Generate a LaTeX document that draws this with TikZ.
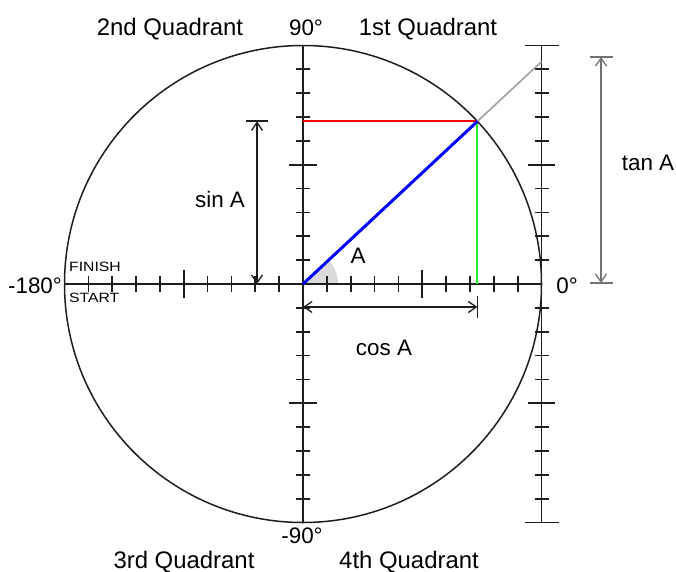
\documentclass[tikz,border=0pt]{standalone}
\usepackage{fontspec}
\setmainfont{Liberation Sans}
\usepackage{graphicx}
\usetikzlibrary{arrows.meta,calc}
\definecolor{axisgray}{RGB}{30,30,30}
\definecolor{sinered}{RGB}{255,0,0}
\definecolor{cosgreen}{RGB}{40,235,40}
\definecolor{radblue}{RGB}{0,0,255}
\definecolor{extgray}{RGB}{160,160,160}
\definecolor{tangray}{RGB}{115,115,115}
\definecolor{sectorgray}{RGB}{218,218,218}
\begin{document}
\begin{tikzpicture}[x=1bp,y=-1bp,
  lbl/.style={font=\fontsize{22.5}{26}\selectfont, inner sep=0, anchor=base},
  quadlbl/.style={font=\fontsize{24}{28}\selectfont, inner sep=0, anchor=base},
  smalllbl/.style={font=\fontsize{13.5}{15}\selectfont, inner sep=0, anchor=base west},
  axisline/.style={line width=1.7bp, draw=axisgray},
  tickline/.style={line width=1.7bp, draw=axisgray},
  barb/.tip={Straight Barb[length=8bp,width=11bp,line width=1.3bp]},
  dimline/.style={line width=1.5bp, draw=axisgray, barb-barb},
  tandim/.style={line width=2.2bp, draw=tangray, barb-barb},
  capline/.style={line width=1.7bp, draw=axisgray},
  tancap/.style={line width=2.2bp, draw=tangray}]
\useasboundingbox (0,0) rectangle (676,572);
\def\R{238.5}
\def\u{23.85}
\coordinate (O) at (303,284);
\coordinate (E) at (541.5,284);
\coordinate (W) at (64.5,284);
\coordinate (N) at (303,45.5);
\coordinate (S) at (303,522.5);
\coordinate (P) at ($(O)+({\R*cos(43)},{-\R*sin(43)})$);
\coordinate (Px) at (P |- O);
\coordinate (Py) at (P -| O);
\coordinate (T) at ($(E)+(0,{-\R*tan(43)})$);
\coordinate (TT) at (541.5,45.5);
\coordinate (TB) at (541.5,522.5);
% angle sector
\fill[sectorgray] (O) -- ++(35,0) arc[start angle=0, end angle=-43, radius=35] -- cycle;
% axes
\draw[axisline] (W) -- (E);
\draw[axisline] (N) -- (S);
\draw[axisline] (TT) -- (TB);
% ticks
\foreach \k in {1,...,9} {
  \pgfmathsetmacro\L{\k==5 ? 14 : 8}
  \draw[tickline] ({303+\k*\u},{284-\L}) -- ({303+\k*\u},{284+\L});
  \draw[tickline] ({303-\k*\u},{284-\L}) -- ({303-\k*\u},{284+\L});
  \pgfmathsetmacro\M{\k==5 ? 14 : 7}
  \draw[tickline] ({303-\M},{284-\k*\u}) -- ({303+\M},{284-\k*\u});
  \draw[tickline] ({303-\M},{284+\k*\u}) -- ({303+\M},{284+\k*\u});
  \pgfmathsetmacro\Q{\k==5 ? 13.5 : 7}
  \draw[tickline] ({541.5-\Q},{284-\k*\u}) -- ({541.5+\Q},{284-\k*\u});
  \draw[tickline] ({541.5-\Q},{284+\k*\u}) -- ({541.5+\Q},{284+\k*\u});
}
\draw[capline] ($(TT)+(-17,0)$) -- ($(TT)+(17,0)$);
\draw[capline] ($(TB)+(-17,0)$) -- ($(TB)+(17,0)$);
% circle
\draw[line width=1.5bp, draw=axisgray] (O) circle[radius=\R];
% trig lines
\draw[line width=1.6bp, draw=extgray] (P) -- (T);
\draw[line width=2bp, draw=sinered] (Py) -- (P);
\draw[line width=2bp, draw=cosgreen] (P) -- (Px);
\draw[line width=3bp, draw=radblue] (O) -- (P);
% sin dimension
\coordinate (S0) at (257,284);
\coordinate (S1) at (S0 |- P);
\draw[dimline] (S0) -- (S1);
\draw[capline] ($(S1)+(-11,0)$) -- ($(S1)+(11,0)$);
% cos dimension
\coordinate (C0) at (303,307);
\coordinate (C1) at (P |- C0);
\draw[dimline] (C0) -- (C1);
\draw[capline] ($(C1)+(0,-11)$) -- ($(C1)+(0,11)$);
% tan dimension
\coordinate (D0) at (601,283);
\coordinate (D1) at (601,57);
\draw[tandim] (D0) -- (D1);
\draw[tancap] ($(D0)+(-11.5,0)$) -- ($(D0)+(11.5,0)$);
\draw[tancap] ($(D1)+(-11.5,0)$) -- ($(D1)+(11.5,0)$);
% labels
\node[quadlbl] (q2) at (170,36) {2nd Quadrant};
\node[lbl] (n90) at (306,36) {90°};
\node[quadlbl] (q1) at (428,36) {1st Quadrant};
\node[lbl] (m180) at (35,293) {-180°};
\node[lbl] (z0) at (567,293) {0°};
\node[lbl] (m90) at (302,543) {-90°};
\node[quadlbl] (q3) at (184,568) {3rd Quadrant};
\node[quadlbl] (q4) at (409,568) {4th Quadrant};
\node[lbl] (tanl) at (648,171) {tan A};
\node[lbl] (sinl) at (220,207) {sin A};
\node[lbl] (cosl) at (384,355) {cos A};
\node[lbl] (al) at (358,263) {A};
\node[smalllbl] (fin) at (69,271) {\scalebox{1.17}[1]{FINISH}};
\node[smalllbl] (sta) at (69,302) {\scalebox{1.17}[1]{START}};
\end{tikzpicture}
\end{document}
